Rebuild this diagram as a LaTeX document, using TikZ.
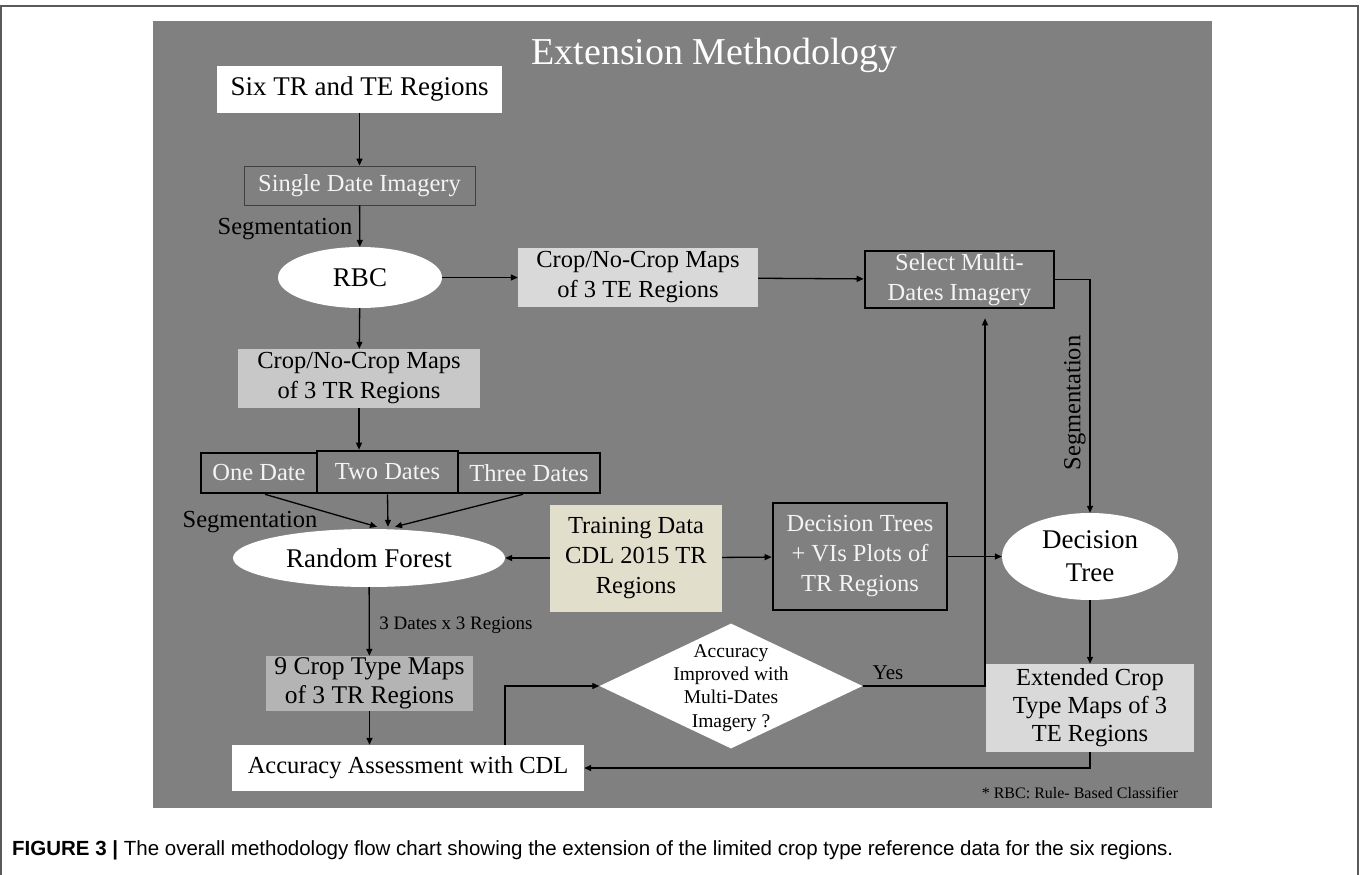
\documentclass[tikz,border=0pt]{standalone}
\usepackage{fontspec}
\setmainfont{Liberation Serif}
\newfontfamily\capfont{Liberation Sans}
\definecolor{mPanel}{RGB}{128,128,128}
\definecolor{mFrame}{RGB}{90,90,90}
\definecolor{mLight}{RGB}{217,217,217}
\definecolor{mMid}{RGB}{200,200,200}
\definecolor{mDark}{RGB}{180,180,180}
\definecolor{mBeige}{RGB}{226,222,204}
\definecolor{mText}{RGB}{244,244,244}
\usetikzlibrary{arrows.meta,positioning,shapes.geometric}
\newcommand{\fs}[2]{\fontsize{#1}{#2}\selectfont}

\begin{document}
\begin{tikzpicture}[x=1pt,y=-1pt,
    box/.style={rectangle,inner sep=0pt,align=center,font=\fs{24.5}{30}},
    thickbox/.style={box,draw=black,line width=2.6pt,fill=mPanel,text=mText},
    oval/.style={ellipse,inner sep=0pt,fill=white,align=center,font=\fs{27}{33}},
    arr/.style={-{Triangle[length=7pt,width=6pt]},line width=1.3pt},
    lbl/.style={inner sep=0pt,font=\fs{24.5}{30}}]
  \useasboundingbox (0,0) rectangle (1360,875);
  \draw[mFrame,line width=1.2pt] (1,875) -- (1,6) -- (1358,6) -- (1358,875);
  \fill[mPanel] (153,21) rectangle (1212,808);
  \node[anchor=base,text=white,inner sep=0pt,font=\fs{38}{46}] (title) at (714.5,64) {Extension Methodology};

  % left column
  \node[box,fill=white,minimum width=285pt,minimum height=47pt,font=\fs{27}{33}] (six) at (359.5,89.5) {Six TR and TE Regions};
  \node[box,draw=black!75,line width=0.8pt,fill=mPanel,text=mText,minimum width=231pt,minimum height=39pt] (single) at (359.5,185.5) {Single Date Imagery};
  \node[lbl] (seg1) at (285,229) {Segmentation};
  \node[oval,minimum width=164pt,minimum height=61pt] (rbc) at (360,277.5) {RBC};
  \node[box,fill=mMid,minimum width=242pt,minimum height=59pt] (tr) at (359,378.5) {Crop/No-Crop Maps\\of 3 TR Regions};
  \node[thickbox,minimum width=116pt,minimum height=40pt] (one) at (259,473) {One Date};
  \node[thickbox,minimum width=141pt,minimum height=42pt] (two) at (387.5,472) {Two Dates};
  \node[thickbox,minimum width=142pt,minimum height=40pt] (three) at (529,473) {Three Dates};
  \node[lbl] (seg2) at (250,522) {Segmentation};
  \node[oval,minimum width=272pt,minimum height=58pt] (rf) at (369,558) {Random Forest};
  \node[lbl,font=\fs{19}{23}] (dates) at (456,625) {3 Dates x 3 Regions};
  \node[box,fill=mDark,minimum width=207pt,minimum height=55pt,font=\fs{25.5}{29}] (nine) at (369.5,683.5) {9 Crop Type Maps\\of 3 TR Regions};
  \node[box,fill=white,minimum width=352pt,minimum height=46pt] (acc) at (408,768) {Accuracy Assessment with CDL};

  % middle and right
  \node[box,fill=mLight,minimum width=240pt,minimum height=59pt] (te) at (638,277.5) {Crop/No-Crop Maps\\of 3 TE Regions};
  \node[thickbox,minimum width=189pt,minimum height=57pt] (sel) at (959.5,279.5) {Select Multi-\\Dates Imagery};
  \node[lbl,rotate=90] (seg3) at (1075,403) {Segmentation};
  \node[box,fill=mBeige,minimum width=172pt,minimum height=107pt] (train) at (636,558) {Training Data\\CDL 2015 TR\\Regions};
  \node[thickbox,minimum width=174pt,minimum height=107pt] (dts) at (860,556.5) {Decision Trees\\+ VIs Plots of\\TR Regions};
  \node[oval,minimum width=176pt,minimum height=87pt] (dt) at (1090,556.5) {Decision\\Tree};
  \node[diamond,fill=white,inner sep=0pt,minimum width=263pt,minimum height=125pt] (dia) at (731,686) {};
  \node[align=center,inner sep=0pt,font=\fs{19.5}{23.3}] (diatext) at (731,688) {Accuracy\\Improved with\\Multi-Dates\\Imagery ?};
  \node[lbl,font=\fs{21}{25}] (yes) at (888,673) {Yes};
  \node[box,fill=mLight,minimum width=208pt,minimum height=88pt,font=\fs{24.5}{28}] (ext) at (1090,708) {Extended Crop\\Type Maps of 3\\TE Regions};
  \node[lbl,font=\fs{16}{19}] (note) at (1080,793) {* RBC: Rule- Based Classifier};

  % connectors
  \draw[arr] (six) -- (single);
  \draw[arr] (single) -- (rbc);
  \draw[arr] (rbc) -- (te);
  \draw[arr] (te) -- (sel);
  \draw[arr] (sel.east) -| (dt.north);
  \draw[arr] (rbc) -- (tr);
  \draw[arr] (tr.south) -- (tr.south |- two.north);
  \draw[arr] ([xshift=6pt]one.south) -- ([xshift=8pt,yshift=2pt]rf.north);
  \draw[arr] (two.south) -- ([xshift=19pt,yshift=2pt]rf.north);
  \draw[arr] ([xshift=-6pt]three.south) -- ([xshift=26pt,yshift=2pt]rf.north);
  \draw[arr] (train) -- (rf);
  \draw[arr] (train) -- (dts);
  \draw[arr] (dts) -- (dt);
  \draw[arr] (rf) -- (nine);
  \draw[arr] (nine.south) -- (nine.south |- acc.north);
  \draw[arr] ([xshift=97pt]acc.north) |- (dia.west);
  \draw[arr] (dia.east) -| ([xshift=25.5pt,yshift=-9pt]sel.south);
  \draw[arr] (dt) -- (ext);
  \draw[arr] (ext.south) |- (acc.east);

  \node[anchor=base west,inner sep=0pt,font=\capfont\fs{20.5}{24}] (caption) at (12,855) {\textbf{FIGURE 3 |} The overall methodology flow chart showing the extension of the limited crop type reference data for the six regions.};
\end{tikzpicture}
\end{document}
